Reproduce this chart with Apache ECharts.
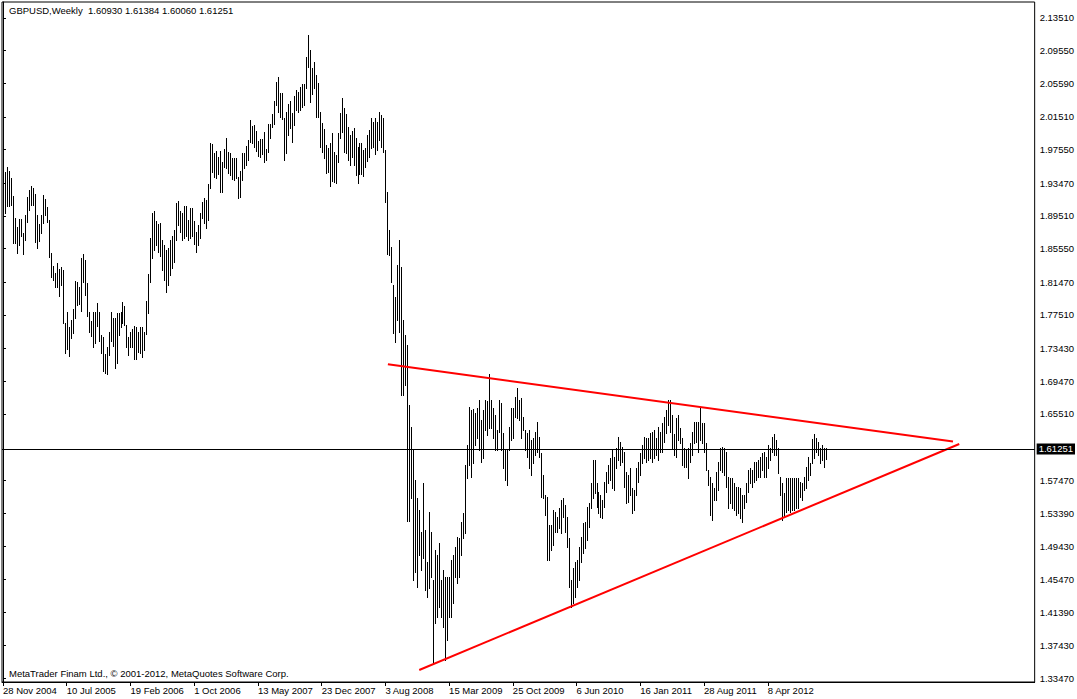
<!DOCTYPE html>
<html><head><meta charset="utf-8">
<script src="https://cdn.jsdelivr.net/npm/echarts@6/dist/echarts.min.js"></script>
<style>html,body{margin:0;padding:0;background:#fff}#c{width:1077px;height:699px}</style>
</head><body><div id="c"></div>
<script>
const symbolName = 'GBPUSD';
const timeframe = 'Weekly';
const copyright = 'MetaTrader Finam Ltd., \u00a9 2001-2012, MetaQuotes Software Corp.';
// weekly highs, one per week starting 28 Nov 2004
const highs = [
1.943,1.948,1.954,1.950,1.941,1.919,1.893,1.882,1.891,1.891,
1.874,1.896,1.918,1.927,1.931,1.929,1.922,1.896,1.885,1.896,
1.920,1.916,1.906,1.890,1.850,1.834,1.826,1.838,1.831,1.833,
1.830,1.765,1.779,1.760,1.769,1.782,1.816,1.815,1.809,1.844,
1.849,1.842,1.814,1.779,1.768,1.779,1.779,1.789,1.779,1.751,
1.748,1.728,1.736,1.754,1.779,1.771,1.771,1.777,1.777,1.779,
1.791,1.786,1.763,1.748,1.754,1.758,1.762,1.760,1.754,1.760,
1.760,1.754,1.792,1.825,1.868,1.899,1.901,1.889,1.885,1.886,
1.866,1.860,1.854,1.856,1.866,1.871,1.878,1.911,1.913,1.901,
1.899,1.907,1.907,1.890,1.905,1.905,1.889,1.876,1.884,1.899,
1.912,1.917,1.914,1.934,1.984,1.982,1.971,1.974,1.967,1.974,
1.961,1.976,1.990,1.973,1.971,1.965,1.965,1.965,1.942,1.950,
1.971,1.971,1.980,1.987,2.011,2.004,2.005,1.998,1.986,1.988,
1.988,1.997,1.976,2.007,2.007,2.019,2.034,2.057,2.064,2.044,
2.044,2.014,2.021,2.031,2.034,2.020,2.040,2.048,2.045,2.051,
2.055,2.055,2.088,2.114,2.096,2.075,2.082,2.066,2.056,2.021,
2.008,2.001,1.981,1.977,1.984,1.996,1.973,1.969,1.996,2.020,
2.038,2.026,2.019,2.003,1.993,1.998,2.002,1.990,1.979,1.984,
1.984,1.975,1.977,1.993,1.999,2.014,2.009,2.014,2.009,2.021,
2.017,2.014,1.975,1.924,1.878,1.857,1.811,1.797,1.836,1.866,
1.833,1.769,1.751,1.739,1.666,1.639,1.611,1.575,1.553,1.538,
1.512,1.571,1.514,1.475,1.536,1.512,1.454,1.490,1.484,1.498,
1.454,1.466,1.457,1.457,1.457,1.478,1.484,1.494,1.506,1.505,
1.524,1.535,1.593,1.617,1.663,1.660,1.661,1.656,1.662,1.672,
1.648,1.660,1.672,1.671,1.703,1.672,1.662,1.654,1.636,1.672,
1.668,1.632,1.611,1.611,1.639,1.662,1.662,1.676,1.686,1.672,
1.674,1.651,1.636,1.632,1.636,1.623,1.626,1.633,1.645,1.627,
1.608,1.581,1.557,1.554,1.520,1.520,1.538,1.536,1.530,1.541,
1.551,1.553,1.545,1.530,1.505,1.454,1.468,1.475,1.478,1.494,
1.506,1.523,1.524,1.542,1.547,1.571,1.599,1.599,1.571,1.560,
1.557,1.551,1.572,1.585,1.593,1.601,1.611,1.603,1.614,1.627,
1.621,1.615,1.609,1.585,1.581,1.589,1.565,1.563,1.589,1.597,
1.608,1.617,1.627,1.626,1.626,1.632,1.633,1.636,1.626,1.639,
1.633,1.644,1.651,1.660,1.672,1.672,1.654,1.630,1.650,1.654,
1.638,1.626,1.614,1.611,1.614,1.620,1.633,1.645,1.645,1.645,
1.662,1.644,1.644,1.620,1.587,1.579,1.571,1.565,1.585,1.597,
1.614,1.615,1.614,1.609,1.579,1.577,1.577,1.571,1.566,1.566,
1.565,1.557,1.557,1.571,1.587,1.589,1.587,1.597,1.597,1.599,
1.603,1.608,1.609,1.603,1.617,1.614,1.627,1.630,1.623,1.614,
1.579,1.571,1.559,1.577,1.577,1.577,1.577,1.577,1.577,1.577,
1.572,1.571,1.579,1.591,1.603,1.595,1.625,1.630,1.626,1.621,
1.614,1.617,1.614,1.61384
];
// weekly lows
const lows = [
1.882,1.899,1.907,1.907,1.908,1.862,1.862,1.850,1.860,1.871,
1.849,1.866,1.888,1.902,1.908,1.908,1.863,1.856,1.865,1.874,
1.886,1.896,1.888,1.845,1.821,1.817,1.809,1.809,1.798,1.811,
1.765,1.729,1.734,1.725,1.747,1.753,1.771,1.787,1.788,1.780,
1.815,1.799,1.774,1.754,1.749,1.736,1.741,1.762,1.743,1.729,
1.707,1.705,1.703,1.726,1.743,1.737,1.711,1.717,1.751,1.760,
1.765,1.763,1.736,1.726,1.736,1.736,1.722,1.722,1.730,1.729,
1.724,1.732,1.752,1.777,1.815,1.844,1.854,1.860,1.851,1.846,
1.830,1.817,1.803,1.811,1.823,1.832,1.839,1.866,1.884,1.876,
1.866,1.868,1.871,1.866,1.868,1.871,1.861,1.851,1.860,1.868,
1.893,1.886,1.880,1.890,1.929,1.948,1.942,1.941,1.946,1.924,
1.924,1.954,1.953,1.947,1.945,1.940,1.939,1.941,1.917,1.918,
1.939,1.953,1.957,1.963,1.985,1.984,1.979,1.974,1.968,1.967,
1.970,1.960,1.963,1.973,1.990,2.003,2.007,2.030,2.021,2.015,
2.013,1.963,1.971,1.993,2.002,1.985,2.005,2.024,2.021,2.024,
2.027,2.030,2.050,2.076,2.033,2.043,2.050,2.015,2.015,1.979,
1.973,1.965,1.947,1.948,1.931,1.937,1.936,1.935,1.961,1.990,
1.997,1.973,1.971,1.963,1.957,1.967,1.957,1.945,1.935,1.946,
1.946,1.943,1.954,1.962,1.967,1.977,1.979,1.970,1.975,1.987,
1.979,1.973,1.912,1.849,1.848,1.815,1.753,1.742,1.769,1.754,
1.678,1.678,1.690,1.525,1.525,1.553,1.454,1.463,1.445,1.484,
1.466,1.480,1.441,1.433,1.444,1.457,1.353,1.401,1.409,1.421,
1.409,1.397,1.357,1.381,1.409,1.409,1.426,1.457,1.450,1.457,
1.484,1.505,1.511,1.577,1.593,1.579,1.595,1.617,1.626,1.611,
1.597,1.602,1.636,1.629,1.638,1.638,1.626,1.611,1.611,1.633,
1.611,1.589,1.575,1.569,1.611,1.623,1.626,1.651,1.650,1.648,
1.626,1.636,1.611,1.603,1.589,1.581,1.595,1.605,1.609,1.603,
1.554,1.553,1.532,1.478,1.478,1.490,1.496,1.512,1.512,1.517,
1.511,1.530,1.512,1.494,1.445,1.421,1.426,1.433,1.445,1.454,
1.475,1.486,1.492,1.502,1.518,1.541,1.553,1.559,1.542,1.535,
1.530,1.529,1.542,1.560,1.571,1.575,1.565,1.563,1.589,1.599,
1.593,1.597,1.566,1.547,1.548,1.557,1.535,1.538,1.557,1.572,
1.581,1.595,1.602,1.597,1.599,1.602,1.597,1.602,1.605,1.599,
1.609,1.609,1.621,1.632,1.642,1.633,1.614,1.605,1.603,1.623,
1.620,1.593,1.591,1.591,1.577,1.597,1.605,1.620,1.621,1.609,
1.623,1.620,1.609,1.587,1.569,1.532,1.526,1.551,1.551,1.563,
1.587,1.585,1.581,1.566,1.541,1.547,1.541,1.538,1.532,1.535,
1.529,1.524,1.541,1.548,1.560,1.571,1.566,1.572,1.575,1.579,
1.579,1.587,1.579,1.579,1.589,1.599,1.609,1.605,1.605,1.583,
1.557,1.526,1.530,1.536,1.538,1.536,1.538,1.538,1.541,1.541,
1.554,1.551,1.563,1.565,1.575,1.581,1.595,1.602,1.609,1.605,
1.595,1.599,1.591,1.60060
];
const lastBar = [1.60930, 1.61384, 1.60060, 1.61251]; // open high low close
const dateLabels = ['28 Nov 2004','10 Jul 2005','19 Feb 2006','1 Oct 2006','13 May 2007','23 Dec 2007','3 Aug 2008','15 Mar 2009','25 Oct 2009','6 Jun 2010','16 Jan 2011','28 Aug 2011','8 Apr 2012'];
const weeksPerLabel = 32;
const priceLabels = [2.13510,2.09550,2.05590,2.01510,1.97550,1.93470,1.89510,1.85550,1.81470,1.77510,1.73430,1.69470,1.65510,1.57470,1.53390,1.49430,1.45470,1.41390,1.37430,1.33470];
// trend lines: [week index, price]
const upperLine = [[193.25, 1.7151], [477, 1.6215]];
const lowerLine = [[209, 1.3444], [480.15, 1.6185]];

const FONT = '"Liberation Sans", Arial, sans-serif';
const FS = 9.5;
const tickIdx = dateLabels.map((d, k) => k * weeksPerLabel);
const barData = highs.map((h, i) => [i, h, lows[i]]);
const closeText = lastBar[3].toFixed(5);

const chart = echarts.init(document.getElementById('c'), null, {renderer: 'svg'});
chart.setOption({
  animation: false,
  backgroundColor: '#fff',
  title: [
    {text: symbolName + ',' + timeframe + '  ' + lastBar.map(v => v.toFixed(5)).join(' '),
     left: 4, top: 0, textStyle: {fontSize: FS, fontWeight: 'normal', fontFamily: FONT, color: '#000'}},
    {text: copyright, left: 4, top: 663,
     textStyle: {fontSize: FS, fontWeight: 'normal', fontFamily: FONT, color: '#000'}}
  ],
  grid: {left: 2, top: 2, right: 38, bottom: 17, show: true, borderColor: '#000', borderWidth: 1, backgroundColor: 'transparent'},
  xAxis: {
    type: 'value', min: -0.5, max: 518,
    axisLine: {show: true, lineStyle: {color: '#000', width: 1}},
    splitLine: {show: false},
    axisTick: {show: true, customValues: tickIdx, length: 4, lineStyle: {color: '#000'}},
    axisLabel: {customValues: tickIdx, align: 'left', margin: 3, color: '#000', fontSize: FS, fontFamily: FONT,
      formatter: v => dateLabels[Math.round(v / weeksPerLabel)] || ''}
  },
  yAxis: {
    type: 'value', position: 'right', min: 1.32985, max: 2.15450,
    axisLine: {show: true, lineStyle: {color: '#000', width: 1}},
    splitLine: {show: false},
    axisTick: {show: true, customValues: priceLabels, length: 3, lineStyle: {color: '#000'}},
    axisLabel: {customValues: priceLabels, margin: 5, color: '#000', fontSize: FS, fontFamily: FONT,
      formatter: v => v.toFixed(5)}
  },
  series: [
    {
      type: 'custom', data: barData, encode: {x: 0, y: [1, 2]}, clip: true, silent: true,
      renderItem: function (params, api) {
        const i = api.value(0);
        const top = api.coord([i, api.value(1)]);
        const bot = api.coord([i, api.value(2)]);
        const px = Math.round(top[0]) + 0.5;
        return {type: 'line', shape: {x1: px, y1: Math.round(top[1]), x2: px, y2: Math.round(bot[1]) + 1},
          style: {stroke: '#000', lineWidth: 1}};
      },
      markLine: {
        silent: true, symbol: 'none', animation: false, precision: 5,
        lineStyle: {color: '#000', width: 1, type: 'solid'},
        label: {show: true, position: 'end', distance: 2, formatter: () => closeText,
          backgroundColor: '#000', color: '#fff', padding: [1, 2, 0, 2], fontSize: FS, fontFamily: FONT},
        data: [{yAxis: lastBar[3]}]
      }
    },
    {type: 'line', data: upperLine, showSymbol: false, silent: true, lineStyle: {color: '#ff0000', width: 2}},
    {type: 'line', data: lowerLine, showSymbol: false, silent: true, lineStyle: {color: '#ff0000', width: 2}}
  ]
});
</script></body></html>
